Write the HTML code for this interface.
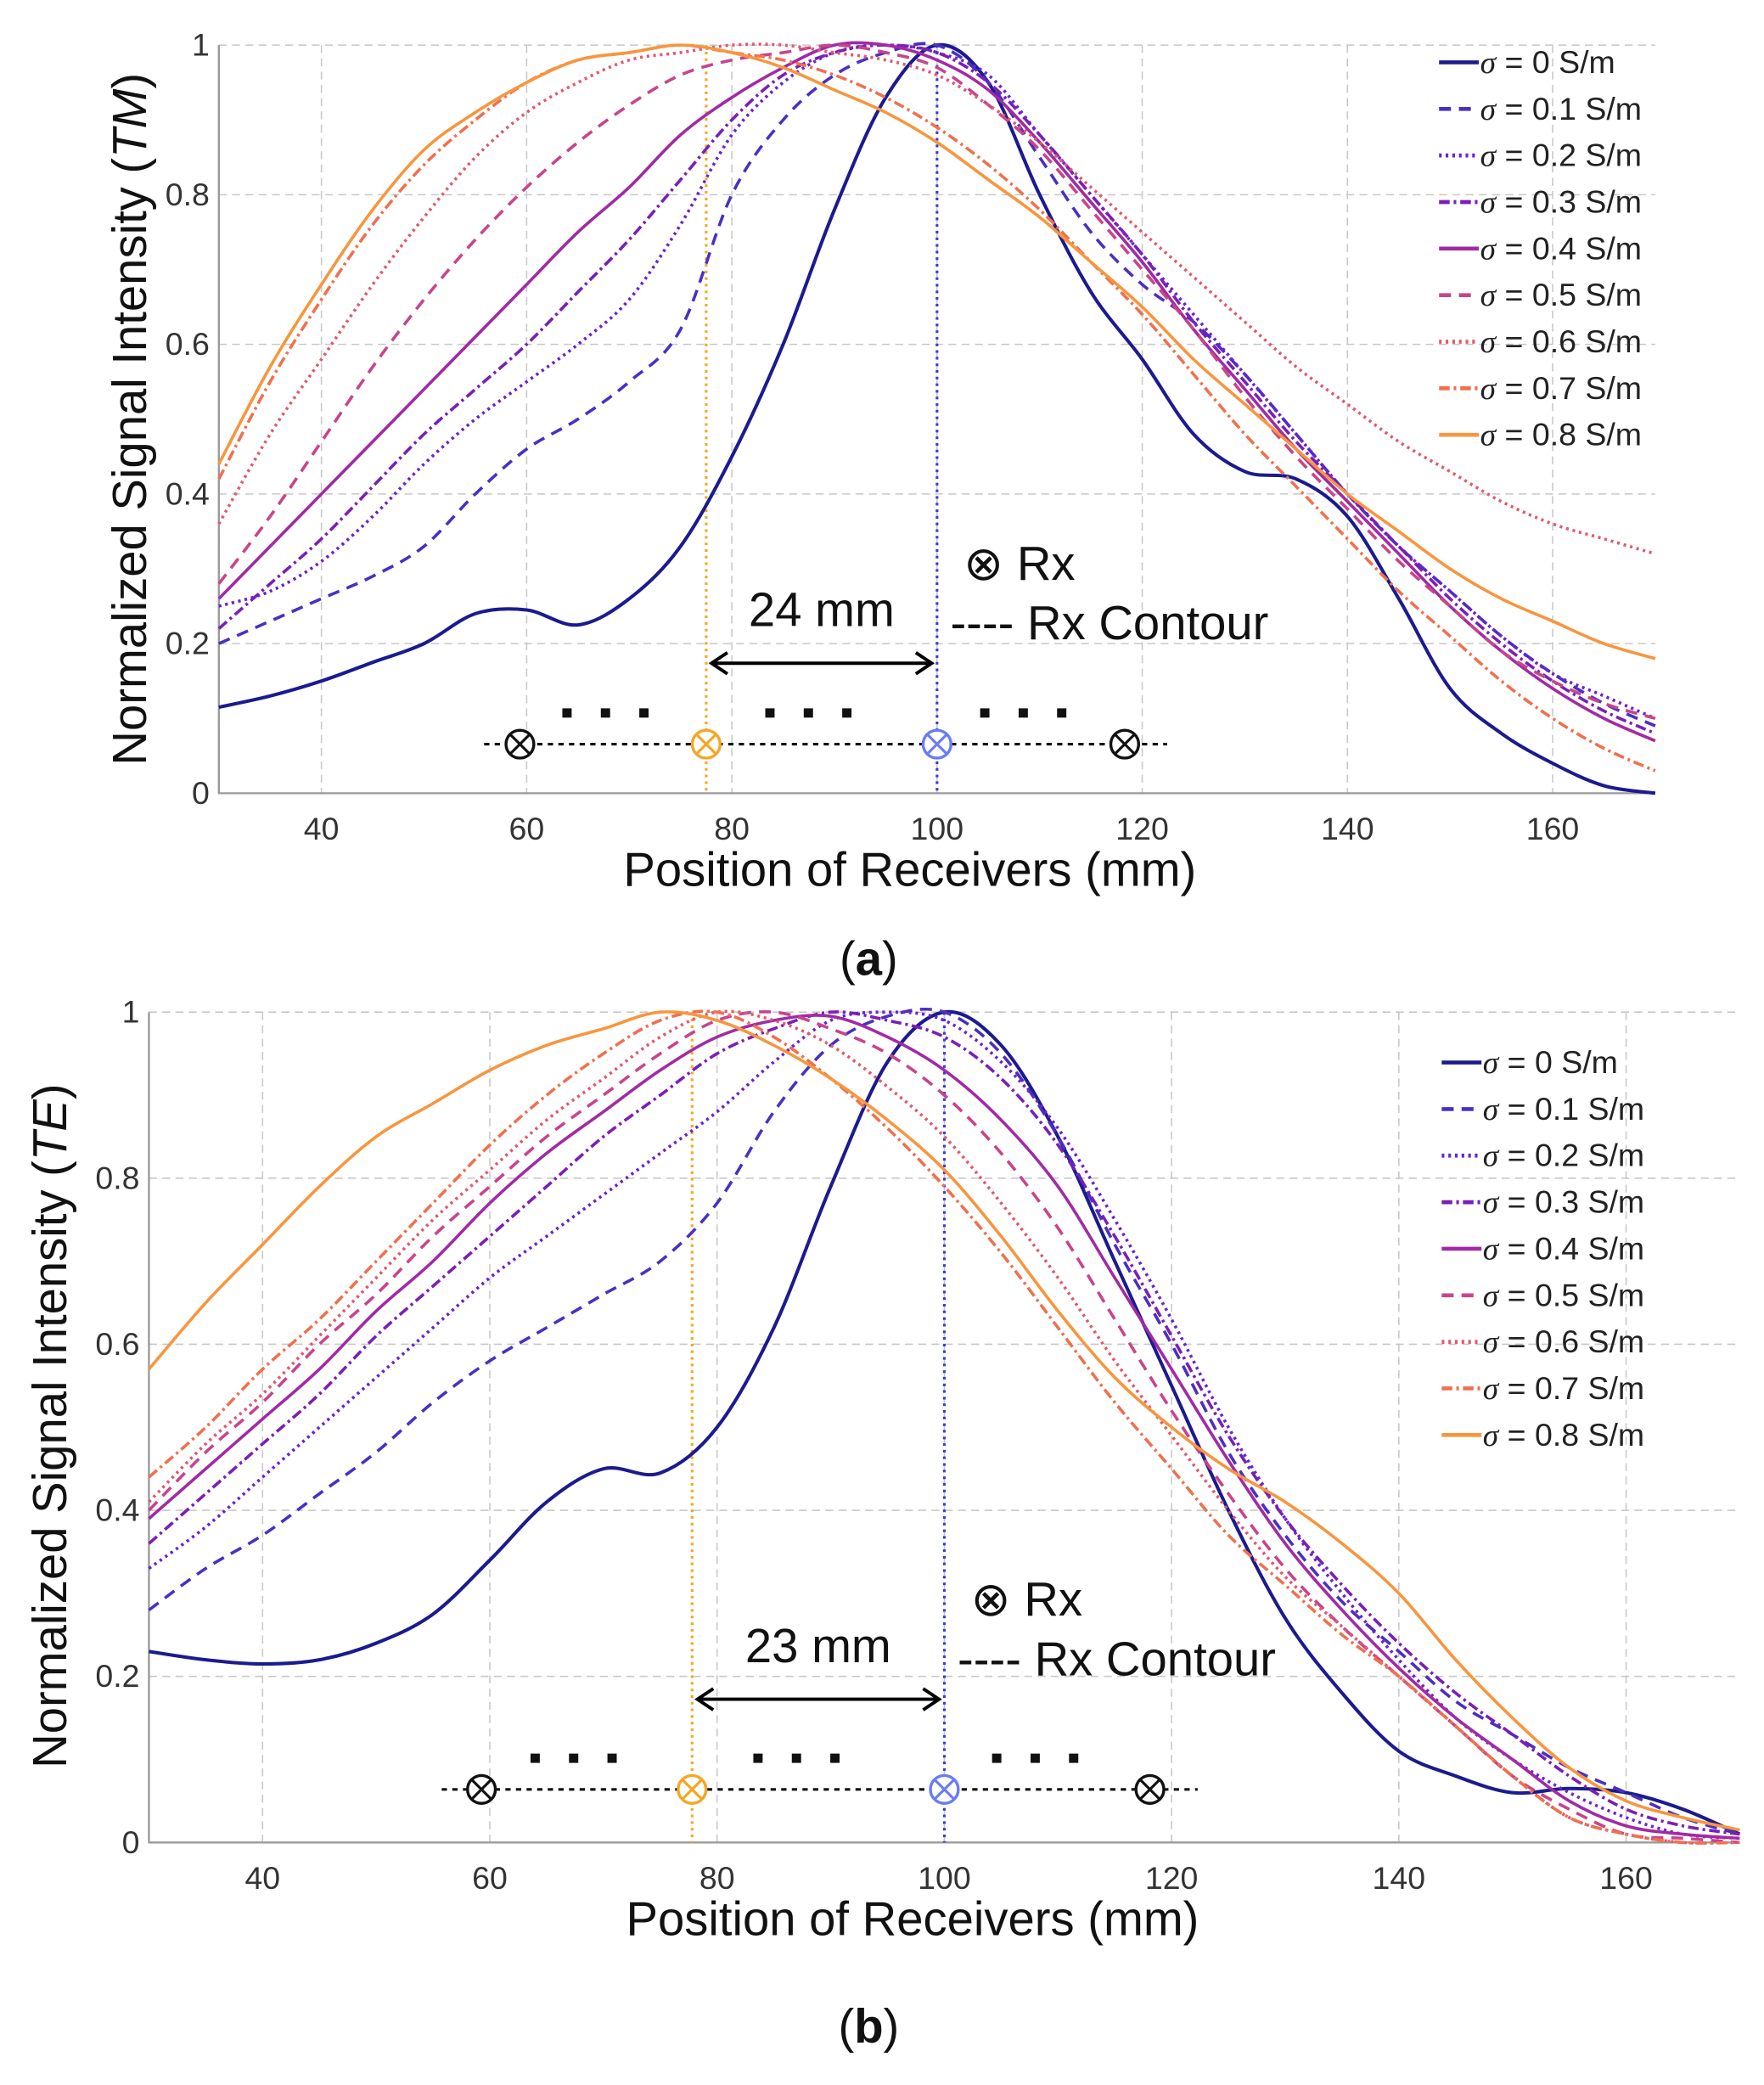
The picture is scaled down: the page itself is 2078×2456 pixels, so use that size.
<!DOCTYPE html>
<html><head><meta charset="utf-8"><style>
html,body{margin:0;padding:0;background:#fff}
svg{display:block}
text{font-family:"Liberation Sans",sans-serif}
</style></head><body>
<svg id="fig" width="2078" height="2456" viewBox="0 0 1330 1571.84" preserveAspectRatio="none" xmlns="http://www.w3.org/2000/svg"></svg>
<script>
const xs=[30,35,40,45,50,55,60,65,70,75,80,85,90,95,100,105,110,115,120,125,130,135,140,145,150,155,160,165,170];
const sigmaLabels=["σ = 0 S/m","σ = 0.1 S/m","σ = 0.2 S/m","σ = 0.3 S/m","σ = 0.4 S/m","σ = 0.5 S/m","σ = 0.6 S/m","σ = 0.7 S/m","σ = 0.8 S/m"];
const xTicks=[40,60,80,100,120,140,160];
const yTicks=[0,0.2,0.4,0.6,0.8,1];
const yTickLabels=["0","0.2","0.4","0.6","0.8","1"];
const tmS0=[.115,.13,.15,.175,.2,.24,.245,.225,.26,.33,.45,.6,.78,.93,1.0,.95,.8,.67,.58,.48,.43,.42,.37,.26,.14,.08,.04,.01,0];
const tmS1=[.2,.23,.26,.29,.33,.4,.46,.5,.55,.62,.8,.9,.96,.99,1.0,.95,.85,.75,.68,.63,.56,.48,.4,.33,.27,.21,.16,.12,.09];
const tmS2=[.25,.27,.31,.37,.44,.5,.55,.6,.66,.76,.88,.95,.99,1.0,.99,.96,.88,.8,.72,.64,.56,.48,.4,.33,.27,.21,.16,.13,.1];
const tmS3=[.22,.28,.34,.41,.48,.54,.6,.67,.74,.82,.9,.96,.99,1.0,.99,.95,.88,.8,.72,.63,.55,.47,.4,.33,.26,.2,.15,.11,.08];
const tmS4=[.26,.33,.4,.47,.54,.61,.68,.75,.81,.88,.93,.97,1.0,1.0,.98,.94,.87,.79,.71,.62,.54,.46,.39,.32,.25,.19,.14,.1,.07];
const tmS5=[.28,.37,.47,.57,.66,.74,.81,.87,.92,.96,.98,.99,1.0,.99,.97,.92,.86,.78,.7,.62,.53,.45,.38,.31,.25,.19,.15,.12,.1];
const tmS6=[.36,.48,.58,.68,.77,.85,.91,.95,.98,.99,1.0,1.0,.99,.98,.96,.92,.87,.81,.75,.69,.63,.57,.52,.47,.43,.39,.36,.34,.32];
const tmS7=[.42,.55,.66,.76,.84,.9,.95,.98,.99,1.0,.99,.98,.96,.93,.89,.84,.78,.71,.64,.56,.48,.41,.34,.27,.21,.15,.1,.06,.03];
const tmS8=[.44,.57,.68,.78,.86,.91,.95,.98,.99,1.0,.99,.97,.94,.91,.87,.82,.77,.71,.65,.58,.52,.46,.4,.35,.3,.26,.23,.2,.18];
const teS0=[.23,.22,.215,.22,.24,.275,.34,.41,.45,.445,.5,.62,.79,.94,1.0,.96,.85,.7,.55,.4,.27,.18,.11,.08,.06,.065,.06,.04,.01];
const teS1=[.28,.33,.37,.42,.47,.53,.58,.62,.66,.7,.77,.88,.96,.995,1.0,.95,.85,.72,.6,.47,.37,.29,.23,.17,.13,.09,.06,.03,.01];
const teS2=[.33,.38,.44,.5,.56,.62,.68,.73,.78,.83,.88,.94,.99,1.0,.99,.94,.86,.75,.63,.5,.39,.3,.22,.15,.1,.06,.03,.01,.005];
const teS3=[.36,.42,.48,.54,.61,.67,.73,.79,.85,.9,.95,.98,1.0,.99,.97,.92,.84,.73,.61,.49,.39,.31,.24,.18,.13,.08,.04,.02,.01];
const teS4=[.39,.45,.51,.57,.64,.7,.77,.83,.88,.93,.97,.99,.995,.97,.93,.87,.79,.68,.57,.46,.36,.28,.21,.15,.1,.05,.02,.01,.005];
const teS5=[.4,.47,.53,.6,.66,.73,.79,.85,.9,.95,.99,1.0,.98,.95,.9,.83,.74,.63,.52,.42,.33,.26,.2,.14,.08,.04,.01,.005,0];
const teS6=[.41,.48,.54,.61,.68,.75,.81,.87,.92,.97,1.0,.99,.96,.91,.85,.77,.68,.58,.49,.4,.32,.26,.2,.14,.08,.03,.01,0,0];
const teS7=[.44,.5,.57,.63,.7,.77,.84,.9,.95,.99,1.0,.97,.92,.86,.79,.71,.62,.53,.45,.37,.31,.25,.2,.14,.08,.03,.01,0,0];
const teS8=[.57,.65,.72,.79,.85,.89,.93,.96,.98,1.0,.99,.96,.92,.87,.81,.73,.64,.56,.5,.45,.41,.36,.3,.22,.15,.09,.05,.03,.015];

const colors=["#1b1b8f","#4b2fc2","#6a22d0","#7a1fb5","#a12aa5","#c8448b","#e05a6e","#f0704e","#f7963e"];
const dashes=["","9,6","2,3","8,3,2,3","","9,6","2,3","8,3,2,3",""];
const NS="http://www.w3.org/2000/svg";
const svg=document.getElementById('fig');
function mk(tag,attrs,parent,txt){const e=document.createElementNS(NS,tag);for(const k in attrs)e.setAttribute(k,attrs[k]);if(txt!==undefined)e.textContent=txt;(parent||svg).appendChild(e);return e;}
function smooth(pts){let d=`M${pts[0][0]},${pts[0][1]}`;for(let i=0;i<pts.length-1;i++){const p0=pts[Math.max(0,i-1)],p1=pts[i],p2=pts[i+1],p3=pts[Math.min(pts.length-1,i+2)];const c1=[p1[0]+(p2[0]-p0[0])/6,p1[1]+(p2[1]-p0[1])/6],c2=[p2[0]-(p3[0]-p1[0])/6,p2[1]-(p3[1]-p1[1])/6];d+=` C${c1[0]},${c1[1]} ${c2[0]},${c2[1]} ${p2[0]},${p2[1]}`;}return d;}

function chart(cfg){
  const g=mk('g',{},svg);
  
  
  const X=v=>cfg.x0+(v-30)/140*(cfg.x1-cfg.x0);
  const Y=v=>cfg.y0-v*(cfg.y0-cfg.y1);
  xTicks.forEach(t=>{const l=mk('line',{x1:X(t),x2:X(t),y1:cfg.y1,y2:cfg.y0,stroke:'#c8c8c8','stroke-width':1,'stroke-dasharray':'6,4'},g);});
  yTicks.forEach(t=>{if(t===0)return;const l=mk('line',{x1:cfg.x0,x2:cfg.x1,y1:Y(t),y2:Y(t),stroke:'#c8c8c8','stroke-width':1,'stroke-dasharray':'6,4'},g);});
  const ax=mk('path',{d:`M${cfg.x0},${cfg.y1} V${cfg.y0} H${cfg.x1}`,fill:'none',stroke:'#9a9a9a','stroke-width':1.5},g);
  
  xTicks.forEach(t=>{const tx=mk('text',{x:X(t),y:cfg.y0+35,'font-size':24,'text-anchor':'middle',fill:'#333'},g,String(t));});
  yTicks.forEach((t,i)=>{const tx=mk('text',{x:cfg.x0-7,y:Y(t)+8,'font-size':24,'text-anchor':'end',fill:'#333'},g,yTickLabels[i]);});
  const xt=mk('text',{x:cfg.xtx,y:cfg.y0+70,'font-size':36,'text-anchor':'middle',fill:'#111'},g,'Position of Receivers (mm)');
  
  const yt=mk('text',{x:0,y:0,'font-size':36,'text-anchor':'middle',fill:'#111',transform:`translate(${cfg.ytx},${cfg.yty}) rotate(-90)`},g);
  
  yt.appendChild(document.createTextNode('Normalized Signal Intensity ('));
  mk('tspan',{'font-style':'italic'},yt,cfg.mode);
  yt.appendChild(document.createTextNode(')'));
  const vo=mk('line',{x1:X(cfg.orX),x2:X(cfg.orX),y1:cfg.y1,y2:cfg.y0,stroke:'#f5a623','stroke-width':2,'stroke-dasharray':'2,3'},g);
  
  const vb=mk('line',{x1:X(100),x2:X(100),y1:cfg.y1,y2:cfg.y0,stroke:'#3a3ad8','stroke-width':2,'stroke-dasharray':'2,3'},g);
  
  cfg.series.forEach((s,i)=>{
    const pts=xs.map((x,j)=>[X(x),Y(s[j])]);
    const p=mk('path',{d:smooth(pts),fill:'none',stroke:colors[i],'stroke-width':i===0?2.6:2.3,'stroke-dasharray':dashes[i]},g);
    
    
  });
  sigmaLabels.forEach((lab,i)=>{
    const ly=cfg.legY+i*35.1;
    const l=mk('line',{x1:cfg.legX,x2:cfg.legX+30,y1:ly,y2:ly,stroke:colors[i],'stroke-width':3,'stroke-dasharray':dashes[i]},g);
    
    const t=mk('text',{x:cfg.legX+31,y:ly+8,'font-size':24,fill:'#222'},g);
    
    mk('tspan',{'font-family':'Liberation Serif','font-style':'italic'},t,'σ');
    t.appendChild(document.createTextNode(lab.slice(1)));
  });
  const ax1=X(cfg.orX),ax2=X(100);
  const ar=mk('path',{d:`M${ax1+4},${cfg.arY} H${ax2-4} M${ax1+16},${cfg.arY-8} L${ax1+4},${cfg.arY} L${ax1+16},${cfg.arY+8} M${ax2-16},${cfg.arY-8} L${ax2-4},${cfg.arY} L${ax2-16},${cfg.arY+8}`,fill:'none',stroke:'#000','stroke-width':2.5},g);
  
  const dl=mk('text',{x:(ax1+ax2)/2,y:cfg.arY-28,'font-size':36,'text-anchor':'middle',fill:'#111'},g,cfg.dist);
  
  const rx=mk('text',{x:ax2+20,y:cfg.arY-63,'font-size':36,fill:'#111'},g,'⊗ Rx');
  
  const rc=mk('text',{x:ax2+10,y:cfg.arY-18,'font-size':36,fill:'#111'},g,'---- Rx Contour');
  
  const cl=mk('line',{x1:cfg.cl0,x2:cfg.cl1,y1:cfg.cy,y2:cfg.cy,stroke:'#111','stroke-width':2,'stroke-dasharray':'4,4'},g);
  
  cfg.dots.forEach(dx=>{for(let k=0;k<3;k++){const r=mk('rect',{x:dx+k*29,y:cfg.cy-27,width:7,height:7,fill:'#111'},g);}});
  [[cfg.c[0],'#111'],[ax1,'#f5a623'],[ax2,'#6a7cf5'],[cfg.c[1],'#111']].forEach(([cx,c])=>{
    const cc=mk('g',{},g);
    mk('circle',{cx:cx,cy:cfg.cy,r:10.5,fill:'#fff',stroke:c,'stroke-width':2.2},cc);
    mk('path',{d:`M${cx-7},${cfg.cy-7} L${cx+7},${cfg.cy+7} M${cx+7},${cfg.cy-7} L${cx-7},${cfg.cy+7}`,stroke:c,'stroke-width':2},cc);
  });
  const pl=mk('text',{x:655,y:cfg.plY,'font-size':36,'font-family':'Liberation Serif','text-anchor':'middle',fill:'#111'},g);
  
  pl.appendChild(document.createTextNode('('));mk('tspan',{'font-weight':'bold'},pl,cfg.panel);pl.appendChild(document.createTextNode(')'));
}
chart({name:'chart-tm',mode:'TM',x0:165,x1:1248,y0:598,y1:34,xtx:686,ytx:110,yty:316,orX:77.5,legX:1085,legY:47,arY:500,dist:'24 mm',cl0:365,cl1:880,cy:561,c:[392,848],dots:[424,577,739],plY:735,panel:'a',
 series:[tmS0,tmS1,tmS2,tmS3,tmS4,tmS5,tmS6,tmS7,tmS8]});
chart({name:'chart-te',mode:'TE',x0:112.3,x1:1311.7,y0:1389,y1:763,xtx:688,ytx:50,yty:1075,orX:77.8,legX:1087,legY:801,arY:1281,dist:'23 mm',cl0:333,cl1:903,cy:1349,c:[363,867],dots:[400,568,748],plY:1540,panel:'b',
 series:[teS0,teS1,teS2,teS3,teS4,teS5,teS6,teS7,teS8]});
</script>
</body></html>
